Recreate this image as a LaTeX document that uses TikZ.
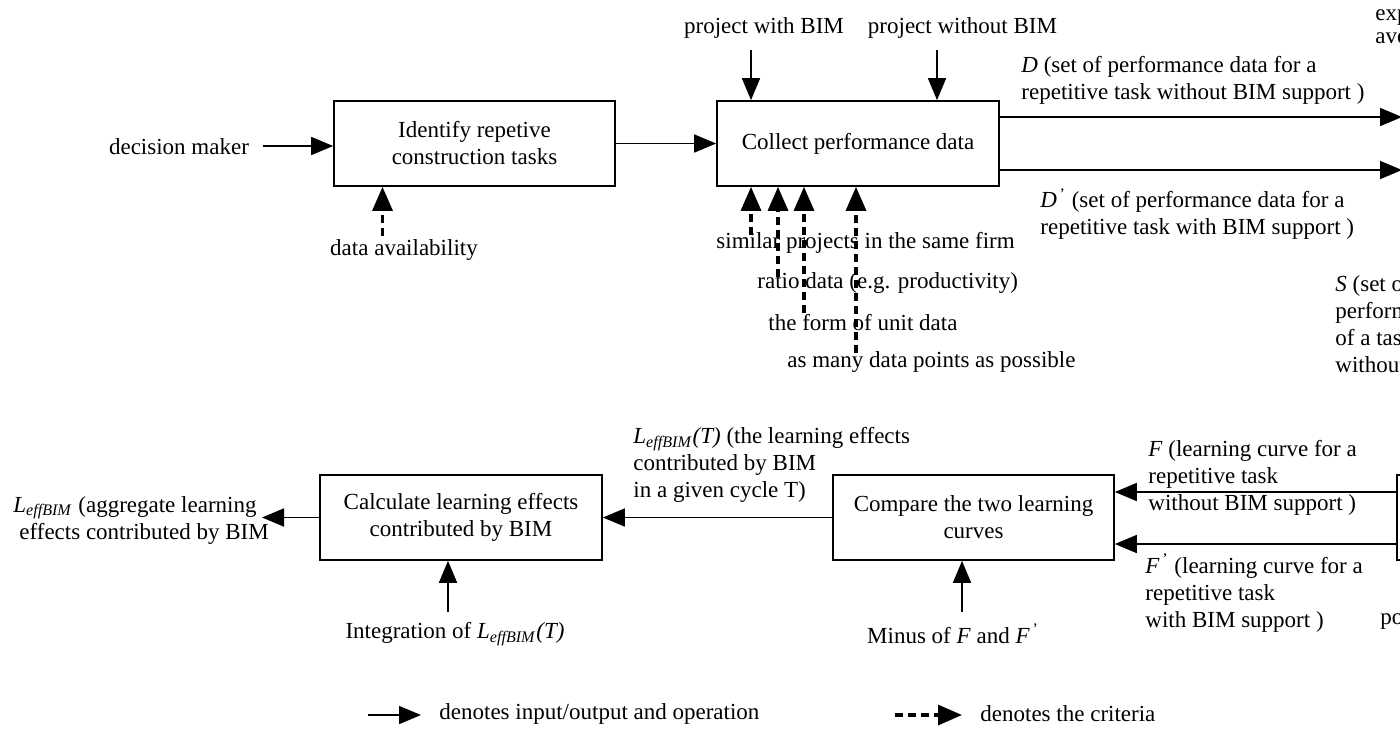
\documentclass[tikz,border=0pt]{standalone}
\usepackage{fontspec}
\setmainfont{Liberation Serif}
\usetikzlibrary{arrows.meta}
\begin{document}
\begin{tikzpicture}[x=0.5pt,y=-0.5pt,
  every node/.style={font=\fontsize{11.5}{13.5}\selectfont, inner sep=0pt},
  box/.style={draw, line width=0.85pt, minimum height=42.5pt, align=center},
  lbl/.style={align=left, anchor=west},
  io/.style={line width=0.85pt, -{Triangle[length=11pt,width=9pt]}},
  crit/.style={line width=1.6pt, dash pattern=on 4pt off 2.5pt, -{Triangle[length=12pt,width=10pt]}}]
\path[use as bounding box] (0,0) rectangle (1400,729);
\clip (0,0) rectangle (1400,729);

% boxes
\node[box, minimum width=140.5pt] (b1) at (474.5,143.5) {Identify repetive\\construction tasks};
\node[box, minimum width=141pt] (b2) at (858,143.5) {Collect performance data};
\node[box, minimum width=141pt] (b3) at (461,517.5) {Calculate learning effects\\contributed by BIM};
\node[box, minimum width=140.5pt] (b4) at (973.5,517.5) {Compare the two learning\\curves};
\node[box, minimum width=140pt, anchor=west] (b5) at (1396,517.5) {};

% top labels
\node (dm) at (179,147) {decision maker};
\node (da) at (404,250) {data availability};
\node (pw) at (764,28) {project with BIM};
\node (pwo) at (962.5,28) {project without BIM};
\node[lbl] (dl) at (1021,80) {\textit{D} (set of performance data for a\\repetitive task without BIM support )};
\node[lbl] (dpl) at (1040,214) {\textit{D}\textsuperscript{\,'} (set of performance data for a\\repetitive task with BIM support )};
\node[anchor=west] (k1) at (716,243) {similar projects in the same firm};
\node[anchor=west] (k2) at (757,283) {ratio data (e.g. productivity)};
\node[anchor=west] (k3) at (768,323) {the form of unit data};
\node[anchor=west] (k4) at (787,362) {as many data points as possible};
\node[anchor=west] (ex) at (1375,15) {expected};
\node[anchor=west] (av) at (1375,40) {average};
\node[lbl] (sl) at (1335,324) {\textit{S} (set of\\performance\\of a task\\without};

% bottom labels
\node[lbl] (lt) at (633,465) {\textit{L}\textsubscript{\textit{effBIM}}\textit{(T)} (the learning effects\\contributed by BIM\\in a given cycle T)};
\node[lbl] (lo) at (13,520) {\textit{L}\textsubscript{\textit{effBIM}} (aggregate learning\\\hspace*{3pt}effects contributed by BIM};
\node (ig) at (455,634) {Integration of \textit{L}\textsubscript{\textit{effBIM}}\textit{(T)}};
\node (mn) at (953,634) {Minus of \textit{F} and \textit{F}\textsuperscript{\,'}};
\node[lbl] (fl) at (1148,478) {\textit{F} (learning curve for a\\repetitive task\\without BIM support )};
\node[lbl] (fpl) at (1145,593) {\textit{F}\textsuperscript{\,'} (learning curve for a\\repetitive task\\with BIM support )};
\node[anchor=west] (po) at (1380,622) {po};

% legend
\node[anchor=west] (lg1) at (439,714) {denotes input/output and operation};
\node[anchor=west] (lg2) at (980,714) {denotes the criteria};

% coordinates
\coordinate (dmo) at (263,146);
\coordinate (c0) at (382.5,236);
\coordinate (c1) at (751,235);
\coordinate (c2) at (778,277);
\coordinate (c3) at (804,313);
\coordinate (c4) at (856,353);
\coordinate (p1) at (751,50);
\coordinate (p2) at (937,50);
\coordinate (dO) at (1402,117);
\coordinate (dpO) at (1402,170);
\coordinate (fA) at (0,492);
\coordinate (fB) at (0,544);
\coordinate (lO) at (262,517.5);
\coordinate (ia) at (448,612);
\coordinate (ma) at (962,612);
\coordinate (lg1a) at (368,715);
\coordinate (lg1b) at (421,715);
\coordinate (lg2a) at (895,715);
\coordinate (lg2b) at (962,715);

% connectors
\draw[io] (dmo) -- (b1.west |- dmo);
\draw[io] (b1.east) -- (b2.west);
\draw[io] (p1) -- (b2.north -| p1);
\draw[io] (p2) -- (b2.north -| p2);
\draw[io] (b2.east |- dO) -- (dO);
\draw[io] (b2.east |- dpO) -- (dpO);
\draw[crit] (c0) -- (b1.south -| c0);
\draw[crit] (c1) -- (b2.south -| c1);
\draw[crit] (c2) -- (b2.south -| c2);
\draw[crit] (c3) -- (b2.south -| c3);
\draw[crit] (c4) -- (b2.south -| c4);
\draw[io] (b5.west |- fA) -- (b4.east |- fA);
\draw[io] (b5.west |- fB) -- (b4.east |- fB);
\draw[io] (b4.west) -- (b3.east);
\draw[io] (b3.west) -- (lO);
\draw[io] (ia) -- (b3.south -| ia);
\draw[io] (ma) -- (b4.south -| ma);
\draw[io] (lg1a) -- (lg1b);
\draw[crit] (lg2a) -- (lg2b);
\end{tikzpicture}
\end{document}
